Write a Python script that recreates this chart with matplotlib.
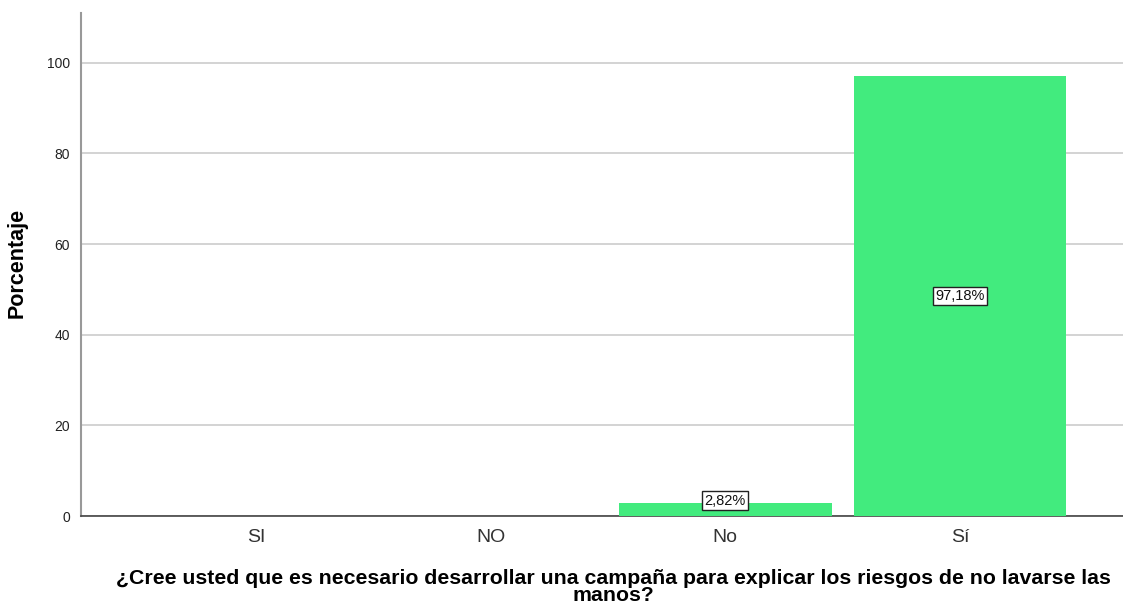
import matplotlib
matplotlib.use("Agg")
import matplotlib.pyplot as plt

categories = ["SI", "NO", "No", "Sí"]
values = [0.0, 0.0, 2.82, 97.18]
labels = ["", "", "2,82%", "97,18%"]
yticks = [0, 20, 40, 60, 80, 100]

plt.rcParams['font.family'] = ['Liberation Sans', 'DejaVu Sans']

fig = plt.figure(figsize=(11.23, 6.13), dpi=100)
ax = fig.add_axes([81/1123, 97/613, 1 - 81/1123, (516-13)/613])

x = list(range(len(categories)))
ax.bar(x, values, width=0.906, color="#42EB7E", zorder=3)

for xi, v, lab in zip(x, values, labels):
    if not lab:
        continue
    ypos = v / 2 if v > 8 else 3.4
    ax.text(xi, ypos, lab, ha="center", va="center", fontsize=10.5, color="#111111",
            bbox=dict(boxstyle="square,pad=0.15", fc="white", ec="#222222", lw=1),
            zorder=5)

ax.set_xlim(-0.745, 3.695)
ax.set_ylim(0, 111)
ax.set_xticks(x)
ax.set_xticklabels(categories, fontsize=14, color="#333333")
ax.set_yticks(yticks)
ax.set_yticklabels([str(t) for t in yticks], fontsize=10, color="#222222")
ax.tick_params(axis="both", length=0)
ax.tick_params(axis="y", pad=8)
ax.tick_params(axis="x", pad=9)
ax.grid(axis="y", color="#d0d0d0", lw=1.3, zorder=0)
ax.set_axisbelow(True)

for s in ["top", "right"]:
    ax.spines[s].set_visible(False)
ax.spines["left"].set_color("#999999")
ax.spines["left"].set_linewidth(1.5)
ax.spines["bottom"].set_color("#444444")
ax.spines["bottom"].set_linewidth(1.2)

fig.text(17.5/1123, 1 - 263/613, "Porcentaje", rotation=90, ha="center", va="center",
         fontsize=15.5, fontweight="bold")
fig.text(613.5/1123, 1 - 587/613,
         "¿Cree usted que es necesario desarrollar una campaña para explicar los riesgos de no lavarse las\nmanos?",
         ha="center", va="center", fontsize=15.3, fontweight="bold", linespacing=0.85)

fig.savefig("out.png", dpi=100)
